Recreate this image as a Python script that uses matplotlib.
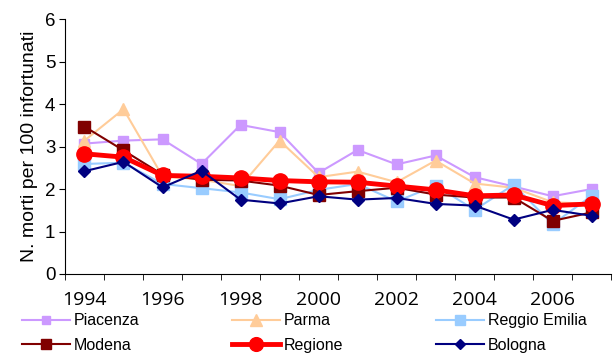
import numpy as np
import matplotlib
matplotlib.use("Agg")
import matplotlib.pyplot as plt
from matplotlib.ticker import FixedLocator

# anni e valori (morti per 100 infortunati)
anni = list(range(1994, 2008))
piacenza = [3.07, 3.14, 3.17, 2.59, 3.51, 3.34, 2.38, 2.92, 2.58, 2.79, 2.28, 2.06, 1.83, 2.00]
parma = [3.14, 3.88, 2.30, 2.22, 2.07, 3.14, 2.28, 2.41, 2.16, 2.67, 2.13, 2.03, 1.69, 1.65]
reggio = [2.59, 2.62, 2.12, 2.02, 1.92, 1.76, 1.98, 2.12, 1.71, 2.08, 1.51, 2.10, 1.17, 1.84]
modena = [3.47, 2.91, 2.34, 2.22, 2.20, 2.08, 1.86, 1.95, 2.03, 1.87, 1.80, 1.80, 1.25, 1.45]
regione = [2.83, 2.75, 2.32, 2.30, 2.26, 2.20, 2.17, 2.16, 2.07, 1.98, 1.84, 1.86, 1.61, 1.65]
bologna = [2.42, 2.64, 2.04, 2.43, 1.75, 1.66, 1.83, 1.75, 1.79, 1.65, 1.61, 1.28, 1.51, 1.37]

plt.rcParams['font.family'] = ['Liberation Sans', 'DejaVu Sans']

fig = plt.figure(figsize=(6.13, 3.54), dpi=100)
ax = fig.add_axes([0.106, 0.226, 0.891, 0.72])

x = np.arange(len(anni))
l1, = ax.plot(x, piacenza, color='#CC99FF', lw=1.5, marker='s', ms=7, label='Piacenza')
l2, = ax.plot(x, parma, color='#FFCC99', lw=1.5, marker='^', ms=9, label='Parma')
l3, = ax.plot(x, reggio, color='#99CCFF', lw=1.5, marker='s', ms=8, label='Reggio Emilia')
l4, = ax.plot(x, modena, color='#800000', lw=1.5, marker='s', ms=8, label='Modena')
l5, = ax.plot(x, regione, color='#FF0000', lw=3.5, marker='o', ms=11, label='Regione')
l6, = ax.plot(x, bologna, color='#000080', lw=1.5, marker='D', ms=6, label='Bologna')

ax.set_xlim(-0.5, len(anni) - 0.5)
ax.set_ylim(0, 6)
ax.set_yticks(range(7))
ax.tick_params(axis='y', labelsize=13.5, length=4, direction='out', pad=3)

ax.set_xticks(x[::2])
ax.set_xticklabels([str(a) for a in anni[::2]], fontsize=14, family=['Open Sans', 'DejaVu Sans'])
ax.xaxis.set_minor_locator(FixedLocator(np.arange(-0.5, len(anni), 1)))
ax.tick_params(axis='x', which='major', length=0, pad=12)
ax.tick_params(axis='x', which='minor', length=4, direction='out')

ax.set_ylabel('N. morti per 100 infortunati', fontsize=14, labelpad=5)
ax.spines['top'].set_visible(False)
ax.spines['right'].set_visible(False)

fig.legend([l1, l4, l2, l5, l3, l6],
           ['Piacenza', 'Modena', 'Parma', 'Regione', 'Reggio Emilia', 'Bologna'],
           loc='upper left', bbox_to_anchor=(0.025, 0.133), ncol=3, frameon=False,
           fontsize=11.5, handlelength=3.0, columnspacing=5.8, handletextpad=0.25,
           labelspacing=0.6, markerscale=0.9, borderaxespad=0)

fig.savefig('out.png', dpi=100)
